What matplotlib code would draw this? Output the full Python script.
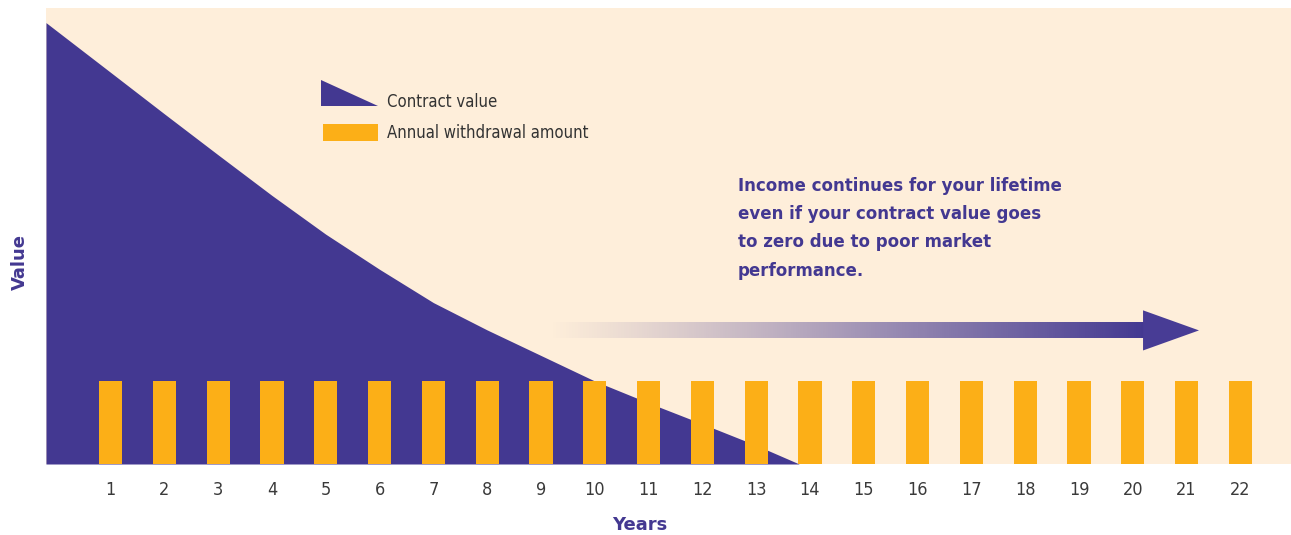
import numpy as np
import matplotlib.pyplot as plt
from matplotlib.patches import Polygon, Rectangle

# data
years = list(range(1, 23))
withdrawal = [18.2] * 22
curve_x = [-0.2, 1, 2, 3, 4, 5, 6, 7, 8, 9, 10, 11, 12, 13, 13.8]
curve_y = [96.8, 85.9, 76.8, 67.8, 58.9, 50.4, 42.7, 35.4, 29.4, 23.8, 18.2, 13.4, 8.8, 4.1, 0.0]

note = ("Income continues for your lifetime\n"
        "even if your contract value goes\n"
        "to zero due to poor market\n"
        "performance.")

purple = '#433891'
orange = '#FCAF17'
bg = '#FEEEDA'
cond = dict(family='DejaVu Sans', fontstretch='condensed')

fig = plt.figure(figsize=(12.91, 5.35), dpi=100)
ax = fig.add_axes([0.0356, 0.1327, 0.9644, 0.8523])
ax.set_facecolor(bg)

ax.fill_between(curve_x, curve_y, 0, color=purple, lw=0, zorder=2)
ax.bar(years, withdrawal, width=0.43, color=orange, zorder=3)

# gradient arrow
arr_x0, arr_x1, arr_tip, arr_y = 9.13, 20.19, 21.23, 29.3
grad = np.zeros((1, 256, 4))
grad[..., 0] = 0x43 / 255
grad[..., 1] = 0x38 / 255
grad[..., 2] = 0x91 / 255
grad[..., 3] = np.linspace(0, 1, 256) ** 1.1
ax.imshow(grad, extent=[arr_x0, arr_x1, arr_y - 1.65, arr_y + 1.65],
          aspect='auto', zorder=2, interpolation='bilinear')
ax.add_patch(Polygon([[arr_x1, arr_y + 4.4], [arr_tip, arr_y], [arr_x1, arr_y - 4.4]],
                     closed=True, color='#483C95', lw=0, zorder=2))

# legend drawn by hand
ax.add_patch(Polygon([[0.2209, 0.842], [0.2209, 0.785], [0.2667, 0.785]], closed=True,
                     transform=ax.transAxes, color=purple, lw=0, zorder=4))
ax.add_patch(Rectangle((0.2225, 0.708), 0.0442, 0.038, transform=ax.transAxes,
                       color=orange, lw=0, zorder=4))
ax.text(0.2739, 0.795, 'Contract value', transform=ax.transAxes, va='center',
        fontsize=12, color='#333333', **cond)
ax.text(0.2739, 0.725, 'Annual withdrawal amount', transform=ax.transAxes, va='center',
        fontsize=12, color='#333333', **cond)

ax.text(0.5558, 0.630, note, transform=ax.transAxes, va='top', ha='left',
        fontsize=13.3, fontweight='bold', color=purple, linespacing=1.74, **cond)

ax.set_xlim(-0.2, 22.94)
ax.set_ylim(0, 100)
ax.set_xticks(years)
ax.set_xticklabels([str(y) for y in years], fontsize=13, color='#3a3a3a', **cond)
ax.set_yticks([])
ax.tick_params(axis='x', length=0, pad=12)
for s in ax.spines.values():
    s.set_visible(False)

ax.set_xlabel('Years', fontsize=13, fontweight='bold', color=purple)
ax.xaxis.set_label_coords(0.477, -0.114)
ax.set_ylabel('Value', fontsize=13, fontweight='bold', color=purple)
ax.yaxis.set_label_coords(-0.014, 0.443)

fig.savefig('out.png', dpi=100)
